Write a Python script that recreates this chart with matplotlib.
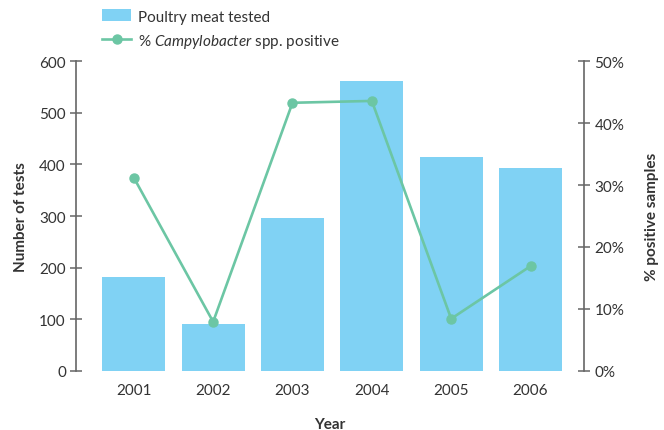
import matplotlib
matplotlib.use("Agg")
import matplotlib.pyplot as plt
from matplotlib.lines import Line2D
from matplotlib.patches import Patch
from matplotlib.ticker import FuncFormatter

plt.rcParams['font.family'] = ['Lato', 'DejaVu Sans']
plt.rcParams['mathtext.fontset'] = 'custom'
plt.rcParams['mathtext.rm'] = 'Lato'
plt.rcParams['mathtext.it'] = 'Lato:italic'

years = ["2001", "2002", "2003", "2004", "2005", "2006"]
tests = [181, 90, 297, 561, 415, 394]
pct_positive = [31.2, 7.9, 43.3, 43.6, 8.4, 16.9]

bar_color = "#80d2f4"
line_color = "#6cc6a4"
text_color = "#333333"
axis_color = "#666666"
fs = 11

fig = plt.figure(figsize=(6.64, 4.31), dpi=100)
ax = fig.add_axes([0.1149, 0.1376, 0.7646, 0.7178])
x = list(range(len(years)))

ax.bar(x, tests, width=0.795, color=bar_color, zorder=1)
ax.set_xlim(-0.725, 5.674)
ax.set_ylim(0, 600)
ax.set_yticks(range(0, 601, 100))
ax.set_xticks(x)
ax.set_xticklabels(years)

ax2 = ax.twinx()
ax2.plot(x, pct_positive, color=line_color, lw=1.9, marker='o', ms=6.5, zorder=3)
ax2.set_ylim(0, 50)
ax2.set_yticks(range(0, 51, 10))
ax2.yaxis.set_major_formatter(FuncFormatter(lambda v, p: f"{int(v)}%"))

for a in (ax, ax2):
    for s in a.spines.values():
        s.set_visible(False)
    a.tick_params(axis='y', direction='inout', length=9, width=1.1,
                  color=axis_color, labelsize=fs, labelcolor=text_color, pad=3)
ax.spines['left'].set_visible(True)
ax.spines['left'].set_color(axis_color)
ax.spines['left'].set_linewidth(1.2)
ax2.spines['right'].set_visible(True)
ax2.spines['right'].set_color(axis_color)
ax2.spines['right'].set_linewidth(1.2)
ax.tick_params(axis='x', length=0, labelsize=fs, labelcolor=text_color, pad=9)

ax.set_ylabel("Number of tests", fontsize=fs, fontweight='bold', color=text_color, labelpad=8)
ax.set_xlabel("Year", fontsize=fs, fontweight='bold', color=text_color, labelpad=14)
ax2.set_ylabel("% positive samples", fontsize=fs, fontweight='bold', color=text_color,
               rotation=90, labelpad=15)

handles = [Patch(facecolor=bar_color, edgecolor='none'),
           Line2D([0], [0], color=line_color, lw=1.9, marker='o', ms=6.5)]
labels = ["Poultry meat tested", "% $\\it{Campylobacter}$ spp. positive"]
fig.legend(handles, labels, loc='upper left', bbox_to_anchor=(0.145, 0.99),
           frameon=False, fontsize=fs, handlelength=1.9, handleheight=0.8,
           handletextpad=0.4, labelspacing=0.55, borderaxespad=0, labelcolor=text_color)

fig.savefig("out.png", dpi=100)
